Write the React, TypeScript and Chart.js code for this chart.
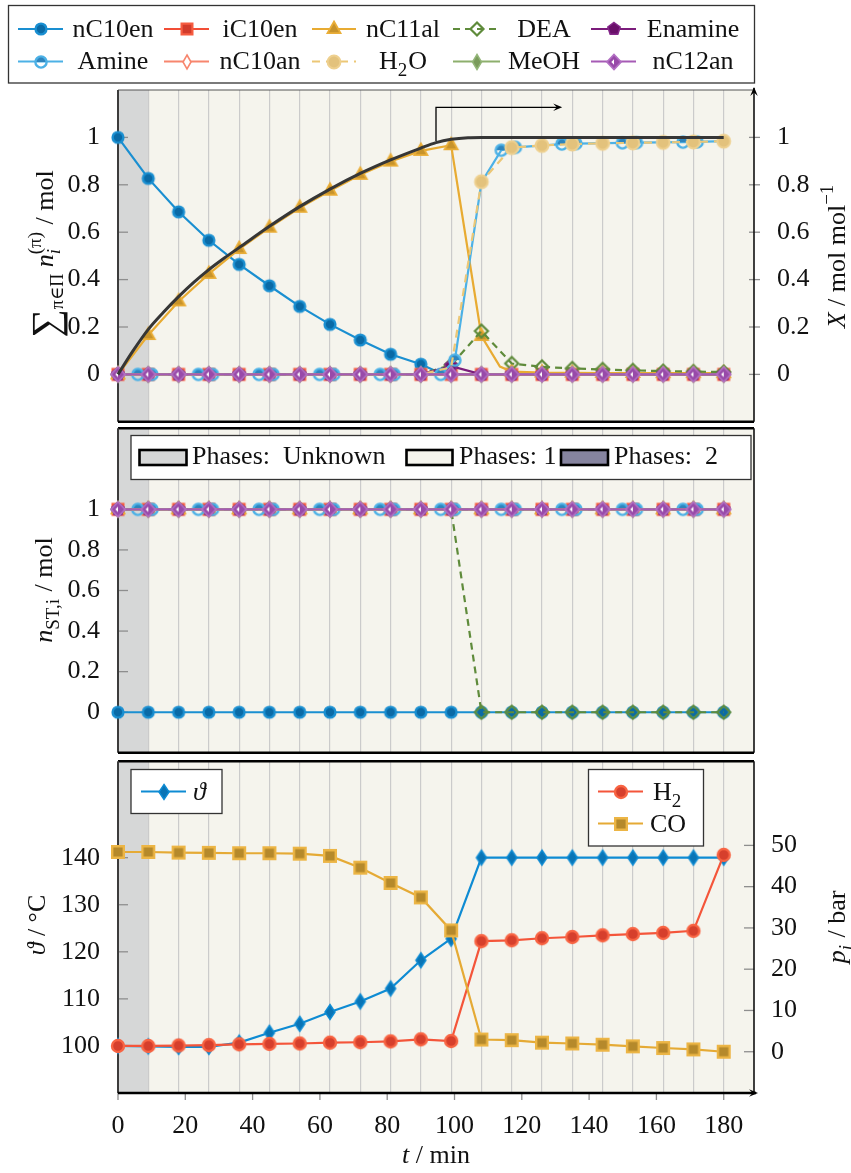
import React, { useEffect, useRef } from 'react';
import { Chart, registerables } from 'chart.js';
Chart.register(...registerables);

const FF = '"Liberation Serif", "DejaVu Serif", serif';
const FS = 26;

// ---------- axes / ticks ----------
const X_MIN = 0;
const X_MAX = 189;
const tGrid = [0, 9, 18, 27, 36, 45, 54, 63, 72, 81, 90, 99, 108, 117, 126, 135, 144, 153, 162, 171, 180];
const phaseUnknownEnd = 9;
const xTickLabels = [0, 20, 40, 60, 80, 100, 120, 140, 160, 180];
const molTicks = [0, 0.2, 0.4, 0.6, 0.8, 1];
const thetaTicks = [100, 110, 120, 130, 140];
const pressureTicks = [0, 10, 20, 30, 40, 50];

// ---------- top panel: sum over phases n_i / mol ----------
const nC10enT = [0, 9, 18, 27, 36, 45, 54, 63, 72, 81, 90, 96, 99, 108, 117, 126, 135, 144, 153, 162, 171, 180];
const nC10enTop = [1, 0.827, 0.686, 0.566, 0.464, 0.374, 0.287, 0.211, 0.145, 0.085, 0.043, 0.004, 0, 0, 0, 0, 0, 0, 0, 0, 0, 0];
const iC10enTop = [0, 0, 0, 0, 0, 0, 0, 0, 0, 0, 0, 0, 0, 0, 0, 0, 0, 0, 0, 0, 0];
const nC11alT = [0, 9, 18, 27, 36, 45, 54, 63, 72, 81, 90, 99, 108, 113.5, 117, 126, 135, 144, 153, 162, 171, 180];
const nC11alTop = [0, 0.166, 0.308, 0.424, 0.529, 0.619, 0.703, 0.775, 0.842, 0.898, 0.943, 0.967, 0.162, 0.033, 0.012, 0.008, 0.007, 0.006, 0.006, 0.005, 0.005, 0.005];
const deaTop = [0, 0, 0, 0, 0, 0, 0, 0, 0, 0, 0, 0.04, 0.183, 0.046, 0.032, 0.025, 0.021, 0.017, 0.014, 0.012, 0.01];
const enamineTop = [0, 0, 0, 0, 0, 0, 0, 0, 0, 0, 0, 0.035, 0, 0, 0, 0, 0, 0, 0, 0, 0];
const amineT = [0, 5.9, 10.1, 23.9, 28.1, 41.9, 46.1, 59.9, 64.1, 77.9, 82.1, 95.9, 100.1, 108, 113.9, 118.1, 131.9, 136.1, 149.9, 154.1, 167.9, 172.1, 180];
const amineMarkerT = [5.9, 10.1, 23.9, 28.1, 41.9, 46.1, 59.9, 64.1, 77.9, 82.1, 95.9, 100.1, 113.9, 118.1, 131.9, 136.1, 149.9, 154.1, 167.9, 172.1];
const amineTop = [0, 0, 0, 0, 0, 0, 0, 0, 0, 0, 0, 0, 0.06, 0.81, 0.946, 0.958, 0.972, 0.974, 0.977, 0.978, 0.98, 0.981, 0.984];
const nC10anTop = [0, 0, 0, 0, 0, 0, 0, 0, 0, 0, 0, 0, 0, 0, 0, 0, 0, 0, 0, 0, 0];
const h2oTop = [0, 0, 0, 0, 0, 0, 0, 0, 0, 0, 0, 0.03, 0.813, 0.957, 0.966, 0.972, 0.975, 0.977, 0.979, 0.981, 0.984];
const h2oMarkerT = [108, 117, 126, 135, 144, 153, 162, 171, 180];
const meohTop = [0, 0, 0, 0, 0, 0, 0, 0, 0, 0, 0, 0, 0, 0, 0, 0, 0, 0, 0, 0, 0];
const nC12anTop = [0, 0, 0, 0, 0, 0, 0, 0, 0, 0, 0, 0, 0, 0, 0, 0, 0, 0, 0, 0, 0];
// conversion X / mol mol^-1 (right axis)
const conversionT = [0, 4.5, 9, 13.5, 18, 22.5, 27, 31.5, 36, 45, 54, 63, 72, 81, 90, 94.5, 99, 104, 108, 180];
const conversionX = [0, 0.1, 0.19, 0.262, 0.328, 0.388, 0.442, 0.49, 0.535, 0.625, 0.708, 0.782, 0.848, 0.905, 0.955, 0.978, 0.992, 0.999, 1, 1];
const arrowAnno = { tStart: 94.5, yStart: 0.985, yTop: 1.127, tEnd: 132 };

// ---------- middle panel: n_ST,i / mol ----------
const nC10enMid = [0, 0, 0, 0, 0, 0, 0, 0, 0, 0, 0, 0, 0, 0, 0, 0, 0, 0, 0, 0, 0];
const deaMid = [1, 1, 1, 1, 1, 1, 1, 1, 1, 1, 1, 1, 0, 0, 0, 0, 0, 0, 0, 0, 0];
const onesMid = [1, 1, 1, 1, 1, 1, 1, 1, 1, 1, 1, 1, 1, 1, 1, 1, 1, 1, 1, 1, 1];
const amineMid = [1, 1, 1, 1, 1, 1, 1, 1, 1, 1, 1, 1, 1, 1, 1, 1, 1, 1, 1, 1, 1, 1, 1];

// ---------- bottom panel ----------
const thetaVals = [100, 99.9, 99.8, 99.8, 100.7, 102.8, 104.7, 107.2, 109.45, 112.2, 118.2, 122.8, 140, 140, 140, 140, 140, 140, 140, 140, 140];
const h2Vals = [1.4, 1.4, 1.5, 1.6, 1.8, 1.9, 2.0, 2.2, 2.3, 2.5, 3.0, 2.6, 26.8, 27.0, 27.5, 27.8, 28.2, 28.5, 28.8, 29.3, 47.7];
const coVals = [48.4, 48.4, 48.25, 48.2, 48.1, 48.1, 48.0, 47.45, 44.6, 40.9, 37.4, 29.4, 2.96, 2.8, 2.2, 2.0, 1.7, 1.3, 0.9, 0.56, 0];

const GRAY = '#d6d7d7';
const CREAM = '#f5f4ed';
const PURPLE_PH = '#86849f';

// ---------- markers ----------
function mkCanvas(size: number, draw: (c: CanvasRenderingContext2D) => void) {
  const cv = document.createElement('canvas');
  cv.width = size; cv.height = size;
  const c = cv.getContext('2d')!;
  c.translate(size / 2, size / 2);
  draw(c);
  return cv;
}
function fs(c: any, fill: any, stroke: any, lw: number) {
  if (fill) { c.fillStyle = fill; c.fill(); }
  if (stroke) { c.lineWidth = lw; c.strokeStyle = stroke; c.stroke(); }
}
const sz = (r: number, lw: number) => 2 * Math.ceil(r + lw) + 2;
const mCircle = (fill: any, stroke: any, r: number, lw: number) => mkCanvas(sz(r, lw), c => { c.beginPath(); c.arc(0, 0, r, 0, Math.PI * 2); fs(c, fill, stroke, lw); });
const mSquare = (fill: any, stroke: any, h: number, lw: number) => mkCanvas(sz(h, lw), c => { c.beginPath(); c.rect(-h, -h, 2 * h, 2 * h); fs(c, fill, stroke, lw); });
const mTriangle = (fill: any, stroke: any, r: number, lw: number) => mkCanvas(sz(r, lw), c => { c.beginPath(); c.moveTo(0, -r); c.lineTo(r * 0.87, r * 0.55); c.lineTo(-r * 0.87, r * 0.55); c.closePath(); fs(c, fill, stroke, lw); });
const mDiamond = (fill: any, stroke: any, rx: number, ry: number, lw: number, inner = false) => mkCanvas(sz(Math.max(rx, ry), lw), c => {
  c.beginPath(); c.moveTo(0, -ry); c.lineTo(rx, 0); c.lineTo(0, ry); c.lineTo(-rx, 0); c.closePath(); fs(c, fill, stroke, lw);
  if (inner) { c.beginPath(); c.moveTo(0, -ry * 0.38); c.lineTo(-rx * 0.38, 0); c.lineTo(0, ry * 0.38); c.closePath(); c.fillStyle = '#ffffff'; c.fill(); }
});
const mHalfCircle = (stroke: string, top: string, r: number, lw: number) => mkCanvas(sz(r, lw), c => {
  c.beginPath(); c.arc(0, 0, r, Math.PI, 2 * Math.PI); c.closePath(); c.fillStyle = top; c.fill();
  c.beginPath(); c.arc(0, 0, r, 0, 2 * Math.PI); c.lineWidth = lw; c.strokeStyle = stroke; c.stroke();
});
const mPentagon = (fill: string, stroke: string, r: number, lw: number) => mkCanvas(sz(r, lw), c => {
  c.beginPath();
  for (let k = 0; k < 5; k++) { const a = -Math.PI / 2 + k * 2 * Math.PI / 5; const px = r * Math.cos(a), py = r * Math.sin(a); if (k === 0) c.moveTo(px, py); else c.lineTo(px, py); }
  c.closePath(); fs(c, fill, stroke, lw);
});

function buildStyles(): any {
  return {
    nC10en: { color: '#1a8fd1', marker: mCircle('#0a6aa6', '#1a8fd1', 5.4, 2.4) },
    iC10en: { color: '#f24e36', marker: mSquare('#d23b2b', '#f65c41', 5.4, 2.2) },
    nC11al: { color: '#e8ab32', marker: mTriangle('#c7932b', '#eaae38', 7.5, 1.8) },
    DEA: { color: '#5f8b3b', dash: [7, 5], marker: mDiamond(null, '#5f8b3b', 6.5, 6.5, 2.2) },
    Enamine: { color: '#7b1c7b', marker: mPentagon('#6a0f6a', '#84278a', 6.5, 1.5) },
    Amine: { color: '#4cb1e6', marker: mHalfCircle('#4cb1e6', '#2e84bd', 5.6, 2.4) },
    nC10an: { color: '#f7866e', marker: mDiamond('#ffffff', '#f7866e', 4, 7, 1.6) },
    H2O: { color: '#ecc776', dash: [8, 6], marker: mCircle('#e3c27c', '#eed08f', 6.4, 2) },
    MeOH: { color: '#8daf6d', marker: mDiamond('#7a9b5b', '#94b679', 4.5, 7.5, 1.5) },
    nC12an: { color: '#a65bb5', marker: mDiamond('#984aa9', '#b26fc3', 7, 7.5, 1.8, true) },
    theta: { color: '#0e8bd3', marker: mDiamond('#0a74b5', '#0e8bd3', 5, 7.5, 1.5) },
    H2: { color: '#f4553a', marker: mCircle('#d63f2c', '#f86443', 6, 2.4) },
    CO: { color: '#e5aa35', marker: mSquare('#b5892b', '#ecb545', 5.8, 2.4) },
  };
}

// ---------- rich text ----------
type Seg = { t?: string; it?: boolean; size?: number; dy?: number; sub?: string; sup?: string; subIt?: boolean; supIt?: boolean };
const font = (size: number, it?: boolean) => `${it ? 'italic ' : ''}${size}px ${FF}`;
function segW(ctx: any, s: Seg, base: number) {
  if (s.t !== undefined) { ctx.font = font(s.size ?? base, s.it); return ctx.measureText(s.t).width; }
  const ss = Math.round(base * 0.72);
  let w = 0;
  if (s.sub) { ctx.font = font(ss, s.subIt); w = Math.max(w, ctx.measureText(s.sub).width); }
  if (s.sup) { ctx.font = font(ss, s.supIt); w = Math.max(w, ctx.measureText(s.sup).width); }
  return w + 1;
}
function drawRich(ctx: any, segs: Seg[], x: number, y: number, base: number, align: 'center' | 'left') {
  const ws = segs.map(s => segW(ctx, s, base));
  const total = ws.reduce((a, b) => a + b, 0);
  let cx = align === 'center' ? x - total / 2 : x;
  ctx.textAlign = 'left'; ctx.textBaseline = 'alphabetic'; ctx.fillStyle = '#111';
  segs.forEach((s, i) => {
    if (s.t !== undefined) { ctx.font = font(s.size ?? base, s.it); ctx.fillText(s.t, cx, y + (s.dy ?? 0)); }
    else {
      const ss = Math.round(base * 0.72);
      if (s.sub) { ctx.font = font(ss, s.subIt); ctx.fillText(s.sub, cx, y + base * 0.27); }
      if (s.sup) { ctx.font = font(ss, s.supIt); ctx.fillText(s.sup, cx, y - base * 0.45); }
    }
    cx += ws[i];
  });
}
function drawRichRot(ctx: any, segs: Seg[], x: number, y: number, base: number) {
  ctx.save(); ctx.translate(x, y); ctx.rotate(-Math.PI / 2); drawRich(ctx, segs, 0, 0, base, 'center'); ctx.restore();
}
function arrowHead(ctx: any, x: number, y: number, dx: number, dy: number, s = 9) {
  const px = -dy, py = dx;
  ctx.beginPath();
  ctx.moveTo(x, y);
  ctx.lineTo(x - dx * s + px * s * 0.42, y - dy * s + py * s * 0.42);
  ctx.lineTo(x - dx * s * 0.6, y - dy * s * 0.6);
  ctx.lineTo(x - dx * s - px * s * 0.42, y - dy * s - py * s * 0.42);
  ctx.closePath();
  ctx.fillStyle = '#000'; ctx.fill();
}
function hline(ctx: any, x0: number, x1: number, y: number) { ctx.beginPath(); ctx.moveTo(x0, y); ctx.lineTo(x1, y); ctx.stroke(); }
function vline(ctx: any, x: number, y0: number, y1: number) { ctx.beginPath(); ctx.moveTo(x, y0); ctx.lineTo(x, y1); ctx.stroke(); }

// ---------- datasets ----------
const series = (xs: number[], ys: number[]) => xs.map((x, i) => ({ x, y: ys[i] }));
function mkDs(label: string, xs: number[], ys: number[], st: any, order: number, markers: number[] = tGrid, yAxisID = 'y') {
  return {
    label, data: series(xs, ys), yAxisID, xAxisID: 'x',
    borderColor: st.color, borderWidth: st.width ?? 2.2, borderDash: st.dash ?? [],
    pointStyle: st.marker, pointRadius: xs.map(x => (markers.includes(x) ? 6 : 0)), pointHoverRadius: 0, pointHitRadius: 0,
    fill: false, tension: 0, clip: false, order,
  };
}

// ---------- scales ----------
const fmt = (v: number) => String(Math.round(v * 100) / 100);
function gridX(position = 'bottom') {
  return {
    type: 'linear', min: X_MIN, max: X_MAX, position,
    ticks: { display: false },
    grid: { color: '#cbcbcb', lineWidth: 1.2, drawTicks: false },
    border: { display: false },
    afterBuildTicks: (s: any) => { s.ticks = tGrid.slice(1).map(v => ({ value: v })); },
    afterFit: (s: any) => { s.height = 0; s.paddingLeft = 0; s.paddingRight = 0; },
  };
}
function yAxis(pos: string, min: number, max: number, ticks: number[], width: number, pad: number) {
  return {
    type: 'linear', position: pos, min, max,
    ticks: { callback: (v: number) => fmt(v), font: { family: FF, size: FS }, color: '#111', padding: pad, autoSkip: false },
    grid: { display: false }, border: { display: false },
    afterBuildTicks: (s: any) => { s.ticks = ticks.map(v => ({ value: v })); },
    afterFit: (s: any) => { s.width = width; s.paddingTop = 0; s.paddingBottom = 0; },
  };
}

// ---------- plugins ----------
const bgPlugin = {
  id: 'phaseBg',
  beforeDraw(chart: any) {
    const { ctx, chartArea: a, scales } = chart;
    const x9 = scales.x.getPixelForValue(phaseUnknownEnd);
    ctx.save();
    ctx.fillStyle = CREAM; ctx.fillRect(a.left, a.top, a.right - a.left, a.bottom - a.top);
    ctx.fillStyle = GRAY; ctx.fillRect(a.left, a.top, x9 - a.left, a.bottom - a.top);
    ctx.restore();
  },
};
function framePlugin(o: any) {
  return {
    id: 'frame',
    beforeDatasetsDraw(chart: any) {
      const { ctx, chartArea: a, scales } = chart;
      ctx.save();
      ctx.strokeStyle = '#8e8e8e'; ctx.lineWidth = 1.3;
      scales.y.ticks.forEach((t: any) => { const py = scales.y.getPixelForValue(t.value); hline(ctx, a.left, a.left + 10, py); });
      if (o.right) scales.y1.ticks.forEach((t: any) => { const py = scales.y1.getPixelForValue(t.value); o.cross ? hline(ctx, a.right - 5, a.right + 6, py) : hline(ctx, a.right - 10, a.right, py); });
      if (o.xTicks) scales.x.ticks.forEach((t: any) => { const px = scales.x.getPixelForValue(t.value); vline(ctx, px, a.bottom, a.bottom + 7); });
      if (o.topThick) { ctx.strokeStyle = '#000'; ctx.lineWidth = 2.5; } else { ctx.strokeStyle = '#555'; ctx.lineWidth = 1.2; }
      hline(ctx, a.left, a.right, a.top);
      ctx.strokeStyle = '#3c3c3c'; ctx.lineWidth = 2; vline(ctx, a.left, a.top, a.bottom);
      ctx.strokeStyle = '#111'; ctx.lineWidth = 1.6; vline(ctx, a.right, a.bottom, o.rightArrow ? a.top - 2 : a.top);
      ctx.strokeStyle = '#000'; ctx.lineWidth = 2.5; hline(ctx, a.left, o.xArrow ? a.right + 2 : a.right, a.bottom);
      if (o.rightArrow) arrowHead(ctx, a.right, a.top - 3, 0, -1, 9);
      if (o.xArrow) arrowHead(ctx, a.right + 4, a.bottom, 1, 0, 9);
      ctx.restore();
    },
  };
}
function textPlugin(offY: number, items: any[]) {
  return {
    id: 'titles',
    afterDraw(chart: any) {
      const ctx = chart.ctx;
      ctx.save();
      items.forEach(it => { if (it.rot) drawRichRot(ctx, it.segs, it.x, it.y - offY, FS); else drawRich(ctx, it.segs, it.x, it.y - offY, FS, 'center'); });
      ctx.restore();
    },
  };
}
const legendText: Record<string, Seg[]> = {
  H2O: [{ t: 'H' }, { sub: '2' }, { t: 'O' }],
  H2: [{ t: 'H' }, { sub: '2' }],
};
function sample(ctx: any, st: any, x0: number, x1: number, mx: number, y: number) {
  ctx.save();
  ctx.strokeStyle = st.color; ctx.lineWidth = 2.2; ctx.setLineDash(st.dash ?? []);
  hline(ctx, x0, x1, y);
  ctx.setLineDash([]);
  const m = st.marker; ctx.drawImage(m, Math.round(mx - m.width / 2), Math.round(y - m.height / 2));
  ctx.restore();
}
function box(ctx: any, x0: number, y0: number, x1: number, y1: number) {
  ctx.fillStyle = '#ffffff'; ctx.fillRect(x0, y0, x1 - x0, y1 - y0);
  ctx.strokeStyle = '#333'; ctx.lineWidth = 1.3; ctx.strokeRect(x0, y0, x1 - x0, y1 - y0);
}

const topLegendRows = [['nC10en', 'iC10en', 'nC11al', 'DEA', 'Enamine'], ['Amine', 'nC10an', 'H2O', 'MeOH', 'nC12an']];
const legendCols = [
  { l0: 18, l1: 63, m: 40.5, tc: 113 },
  { l0: 164, l1: 209, m: 186.5, tc: 260 },
  { l0: 312, l1: 356, m: 334, tc: 403 },
  { l0: 453, l1: 500, m: 476.5, tc: 544 },
  { l0: 591, l1: 636, m: 613.5, tc: 693 },
];
const phaseLabels = ['Phases:  Unknown', 'Phases: 1', 'Phases:  2'];

export default function App() {
  const r1 = useRef<HTMLCanvasElement>(null);
  const r2 = useRef<HTMLCanvasElement>(null);
  const r3 = useRef<HTMLCanvasElement>(null);

  useEffect(() => {
    const S = buildStyles();
    const base = { animation: false, responsive: false, devicePixelRatio: 1, events: [] as any[], plugins: { legend: { display: false }, tooltip: { enabled: false } } };

    // ---- top chart ----
    const topSeries: [string, number[], number[], number[]?][] = [
      ['nC10en', nC10enT, nC10enTop],
      ['iC10en', tGrid, iC10enTop],
      ['nC11al', nC11alT, nC11alTop],
      ['DEA', tGrid, deaTop],
      ['Enamine', tGrid, enamineTop],
      ['Amine', amineT, amineTop, amineMarkerT],
      ['nC10an', tGrid, nC10anTop],
      ['H2O', tGrid, h2oTop, h2oMarkerT],
      ['MeOH', tGrid, meohTop],
      ['nC12an', tGrid, nC12anTop],
    ];
    const topDs: any[] = topSeries.map((s, i) => mkDs(s[0], s[1], s[2], S[s[0]], topSeries.length + 1 - i, s[3] ?? tGrid));
    topDs.push({
      label: 'X', data: series(conversionT, conversionX), yAxisID: 'y1', xAxisID: 'x',
      borderColor: '#363636', borderWidth: 3, pointRadius: 0, pointHitRadius: 0, cubicInterpolationMode: 'monotone', fill: false, clip: false, order: 0,
    });
    const topLegend = {
      id: 'topLegend',
      afterDraw(chart: any) {
        const ctx = chart.ctx;
        ctx.save();
        box(ctx, 8.5, 5.5, 754.5, 83);
        const rowsY = [29, 61.5];
        topLegendRows.forEach((row, ri) => row.forEach((k, ci) => {
          const c = legendCols[ci];
          sample(ctx, S[k], c.l0, c.l1, c.m, rowsY[ri]);
          drawRich(ctx, legendText[k] ?? [{ t: k }], c.tc, rowsY[ri] + 7.5, FS, 'center');
        }));
        ctx.restore();
      },
    };
    const annoPlugin = {
      id: 'anno',
      afterDatasetsDraw(chart: any) {
        const { ctx, scales } = chart;
        const x0 = scales.x.getPixelForValue(arrowAnno.tStart);
        const x1 = scales.x.getPixelForValue(arrowAnno.tEnd);
        const y0 = scales.y1.getPixelForValue(arrowAnno.yStart);
        const yt = scales.y1.getPixelForValue(arrowAnno.yTop);
        ctx.save();
        ctx.strokeStyle = '#000'; ctx.lineWidth = 1.3;
        ctx.beginPath(); ctx.moveTo(x0, y0); ctx.lineTo(x0, yt); ctx.lineTo(x1 - 4, yt); ctx.stroke();
        arrowHead(ctx, x1, yt, 1, 0, 9);
        ctx.restore();
      },
    };
    const c1 = new Chart(r1.current!, {
      type: 'line',
      data: { datasets: topDs },
      options: {
        ...base,
        layout: { padding: { top: 90, bottom: 6, left: 0, right: 0 } },
        scales: { x: gridX(), y: yAxis('left', -0.2, 1.2, molTicks, 118, 10), y1: yAxis('right', -0.2, 1.2, molTicks, 97, 15) },
      } as any,
      plugins: [bgPlugin, framePlugin({ right: true, cross: true, rightArrow: true }), annoPlugin, topLegend,
        textPlugin(0, [
          { rot: true, x: 53, y: 254, segs: [{ t: '∑', size: 40, dy: 6 }, { t: 'π∈Π', size: 18, dy: 10 }, { t: ' ' }, { t: 'n', it: true }, { sub: 'i', subIt: true, sup: '(π)' }, { t: ' / mol' }] },
          { rot: true, x: 845, y: 256, segs: [{ t: 'X', it: true }, { t: ' / mol mol' }, { sup: '−1' }] },
        ])] as any,
    } as any);

    // ---- middle chart ----
    const midSeries: [string, number[], number[], number[]?][] = [
      ['nC10en', tGrid, nC10enMid],
      ['iC10en', tGrid, onesMid],
      ['nC11al', tGrid, onesMid],
      ['DEA', tGrid, deaMid],
      ['Enamine', tGrid, onesMid],
      ['Amine', amineT, amineMid, amineMarkerT],
      ['nC10an', tGrid, onesMid],
      ['H2O', tGrid, onesMid, []],
      ['MeOH', tGrid, onesMid],
      ['nC12an', tGrid, onesMid],
    ];
    const midDs = midSeries.map((s, i) => mkDs(s[0], s[1], s[2], S[s[0]], midSeries.length - i, s[3] ?? tGrid));
    const phaseLegend = {
      id: 'phaseLegend',
      afterDraw(chart: any) {
        const ctx = chart.ctx; const o = 420;
        ctx.save();
        box(ctx, 131, 435.5 - o, 751, 479.5 - o);
        const sw = [[139.5, 186.5, GRAY, 192], [406.5, 452.5, CREAM, 459], [561, 608, PURPLE_PH, 614]];
        sw.forEach((s: any, i) => {
          ctx.fillStyle = s[2]; ctx.fillRect(s[0], 450 - o, s[1] - s[0], 15);
          ctx.strokeStyle = '#000'; ctx.lineWidth = 2.6; ctx.strokeRect(s[0], 450 - o, s[1] - s[0], 15);
          drawRich(ctx, [{ t: phaseLabels[i] }], s[3], 464 - o, FS, 'left');
        });
        ctx.restore();
      },
    };
    const c2 = new Chart(r2.current!, {
      type: 'line',
      data: { datasets: midDs },
      options: {
        ...base,
        layout: { padding: { top: 4, bottom: 4, left: 0, right: 97 } },
        scales: { x: gridX(), y: yAxis('left', -0.2, 1.4, molTicks, 118, 10) },
      } as any,
      plugins: [bgPlugin, framePlugin({ topThick: true }), phaseLegend,
        textPlugin(420, [{ rot: true, x: 52, y: 590, segs: [{ t: 'n', it: true }, { sub: 'ST,i' }, { t: ' / mol' }] }])] as any,
    } as any);

    // ---- bottom chart ----
    const botDs = [
      mkDs('ϑ', tGrid, thetaVals, S.theta, 3, tGrid, 'y'),
      mkDs('H2', tGrid, h2Vals, S.H2, 2, tGrid, 'y1'),
      mkDs('CO', tGrid, coVals, S.CO, 1, tGrid, 'y1'),
    ];
    const botLegend = {
      id: 'botLegend',
      afterDraw(chart: any) {
        const ctx = chart.ctx; const o = 753;
        ctx.save();
        box(ctx, 131, 769.5 - o, 222, 813.5 - o);
        sample(ctx, S.theta, 141, 186, 163.5, 791.5 - o);
        drawRich(ctx, [{ t: 'ϑ', it: true }], 193, 800 - o, FS, 'left');
        box(ctx, 588.5, 769.5 - o, 703.5, 846 - o);
        sample(ctx, S.H2, 598, 643, 620.5, 791.5 - o);
        drawRich(ctx, legendText.H2, 653, 800 - o, FS, 'left');
        sample(ctx, S.CO, 598, 643, 620.5, 823.5 - o);
        drawRich(ctx, [{ t: 'CO' }], 650, 832 - o, FS, 'left');
        ctx.restore();
      },
    };
    const c3 = new Chart(r3.current!, {
      type: 'line',
      data: { datasets: botDs },
      options: {
        ...base,
        layout: { padding: { top: 4, bottom: 0, left: 0, right: 0 } },
        scales: {
          x: {
            type: 'linear', min: X_MIN, max: X_MAX, position: 'bottom',
            ticks: { font: { family: FF, size: FS }, color: '#111', padding: 10, autoSkip: false, maxRotation: 0, callback: (v: number) => String(v) },
            grid: { display: false }, border: { display: false },
            afterBuildTicks: (s: any) => { s.ticks = xTickLabels.map(v => ({ value: v })); },
            afterFit: (s: any) => { s.height = 80; s.paddingLeft = 0; s.paddingRight = 0; },
          },
          xg: { ...gridX('top'), axis: 'x' },
          y: yAxis('left', 90, 160.5, thetaTicks, 118, 10),
          y1: yAxis('right', -10, 70.4, pressureTicks, 97, 9),
        },
      } as any,
      plugins: [bgPlugin, framePlugin({ topThick: true, right: true, xTicks: true, xArrow: true }), botLegend,
        textPlugin(753, [
          { rot: true, x: 45, y: 925, segs: [{ t: 'ϑ', it: true }, { t: ' / °C' }] },
          { rot: true, x: 845, y: 927, segs: [{ t: 'p', it: true }, { sub: 'i', subIt: true }, { t: ' / bar' }] },
          { rot: false, x: 436, y: 1163, segs: [{ t: 't', it: true }, { t: ' / min' }] },
        ])] as any,
    } as any);

    return () => { c1.destroy(); c2.destroy(); c3.destroy(); };
  }, []);

  return (
    <div style={{ position: 'absolute', left: 0, top: 0, width: 851, height: 1173, background: '#ffffff' }}>
      <canvas ref={r1} width={851} height={430} style={{ position: 'absolute', left: 0, top: 0, width: 851, height: 430 }} />
      <canvas ref={r2} width={851} height={341} style={{ position: 'absolute', left: 0, top: 420, width: 851, height: 341 }} />
      <canvas ref={r3} width={851} height={420} style={{ position: 'absolute', left: 0, top: 753, width: 851, height: 420 }} />
    </div>
  );
}
